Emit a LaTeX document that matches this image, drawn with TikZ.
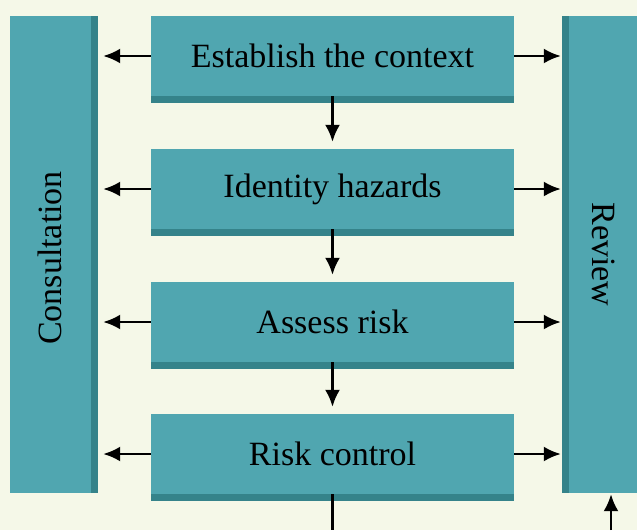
\documentclass[tikz,border=0pt]{standalone}
\usepackage{fontspec}
\setmainfont{Liberation Serif}
\usetikzlibrary{arrows.meta}
\definecolor{bgcream}{HTML}{F5F8E8}
\definecolor{tealbox}{HTML}{50A6B0}
\definecolor{tealdark}{HTML}{35838A}
\tikzset{
  stepbox/.style={fill=tealbox, minimum width=363pt, minimum height=80pt, inner sep=0pt,
    font=\fontsize{34}{36}\selectfont},
  sidebar/.style={fill=tealbox, inner sep=0pt},
  sidetext/.style={font=\fontsize{34}{36}\selectfont},
  flow/.style={line width=2.5pt, -{Latex[length=17pt,width=15pt]}},
  plainline/.style={line width=2.5pt},
}
\begin{document}
\begin{tikzpicture}[x=1pt,y=-1pt]
  \fill[bgcream] (0,0) rectangle (637,530);
  \useasboundingbox (0,0) rectangle (637,530);
  %% side columns
  \node[sidebar, minimum width=88pt, minimum height=477pt] (cons) at (54,254.5) {};
  \fill[tealdark] (91,16) rectangle (98,493);
  \node[sidetext, rotate=90] at (50,258) {Consultation};
  \node[sidebar, minimum width=75pt, minimum height=477pt] (review) at (599.5,254.5) {};
  \fill[tealdark] (562,16) rectangle (569,493);
  \node[sidetext, rotate=-90] at (604,254.5) {Review};
  %% steps
  \node[stepbox] (ctx) at (332.5,56) {Establish the context};
  \node[stepbox] (ident) at (332.5,189) {Identity hazards};
  \node[stepbox] (assess) at (332.5,322) {Assess risk};
  \node[stepbox] (ctrl) at (332.5,454) {Risk control};
  \foreach \s in {ctx,ident,assess,ctrl} {
    \fill[tealdark] (\s.south west) rectangle ++(363,7);
    \draw[flow, shorten >=5pt] (\s.west) -- (\s.west -| cons.east);
    \draw[flow, shorten >=1pt] (\s.east) -- (\s.east -| review.west);
  }
  %% down the chain
  \draw[flow, shorten >=7pt] (ctx.south) -- (ident.north);
  \draw[flow, shorten >=7pt] (ident.south) -- (assess.north);
  \draw[flow, shorten >=7pt] (assess.south) -- (ctrl.north);
  \coordinate (exitA) at (332.5,530);
  \coordinate (exitB) at (611,530);
  \draw[plainline] (ctrl.south) -- (exitA);
  \draw[flow, shorten >=1pt] (exitB) -- (exitB |- review.south);
\end{tikzpicture}
\end{document}
